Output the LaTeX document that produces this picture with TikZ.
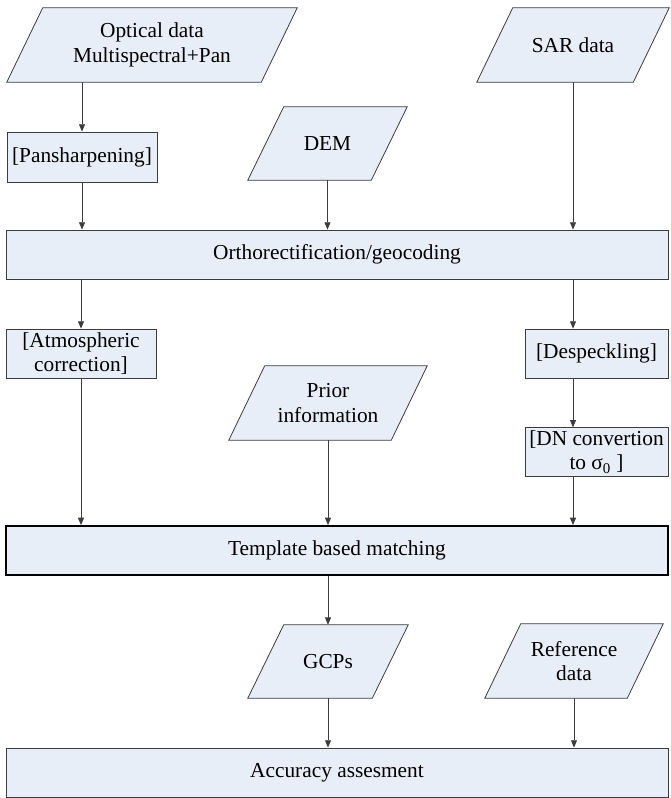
\documentclass[tikz,border=0pt]{standalone}
\usepackage{fontspec}
\setmainfont{Liberation Serif}
\usetikzlibrary{arrows.meta,backgrounds}
\definecolor{boxfill}{RGB}{232,238,247}
\definecolor{edgegray}{RGB}{60,60,60}

\begin{document}
\begin{tikzpicture}[
  x=0.75pt, y=-0.75pt,
  every node/.style={font=\fontsize{16}{18.5}\selectfont},
  procbox/.style={rectangle, draw=edgegray, fill=boxfill, line width=0.6pt,
    align=center, inner sep=2pt},
  widebox/.style={procbox, minimum width=496.5pt, minimum height=36.75pt},
  databox/.style={rectangle, align=center, inner sep=2pt},
  databorder/.style={draw=edgegray, fill=boxfill, line width=0.6pt},
  arrow/.style={-{Triangle[length=5.5pt,width=4.5pt]}, draw=edgegray,
    line width=0.6pt},
]
\useasboundingbox (0,0) rectangle (670,798);

\node[databox, minimum width=190.5pt, minimum height=55.5pt] (opt) at (152,45)
  {Optical data\\Multispectral+Pan};
\node[databox, minimum width=117pt, minimum height=55.5pt] (sar) at (573,45)
  {SAR data};
\node[procbox, minimum width=112.5pt, minimum height=37.5pt] (pan) at (82,157)
  {[Pansharpening]};
\node[databox, minimum width=92.25pt, minimum height=54.75pt] (dem) at (327.5,143.5)
  {DEM};

\node[widebox] (ortho) at (337,254.5) {Orthorectification/geocoding};

\draw[arrow] (pan |- opt.south) -- (pan.north);
\draw[arrow] (pan.south) -- (pan.south |- ortho.north);
\draw[arrow] (dem.south) -- (dem.south |- ortho.north);
\draw[arrow] (sar.south) -- (sar.south |- ortho.north);

\node[procbox, minimum width=112.5pt, minimum height=36.75pt] (atm) at (81,353.5)
  {[Atmospheric\\correction]};
\node[procbox, minimum width=107.25pt, minimum height=36.75pt] (desp) at (596.5,353.5)
  {[Despeckling]};
\node[databox, minimum width=121.5pt, minimum height=55.5pt] (prior) at (328,403)
  {Prior\\information};
\node[procbox, minimum width=107.25pt, minimum height=36pt] (dn) at (596.5,452)
  {[DN convertion\\to σ\textsubscript{0} ]};

\node[widebox, draw=black, line width=1.4pt] (tmpl) at (337,550.5)
  {Template based matching};

\draw[arrow] (atm.north |- ortho.south) -- (atm.north);
\draw[arrow] (sar.south |- ortho.south) -- (sar.south |- desp.north);
\draw[arrow] (sar.south |- desp.south) -- (sar.south |- dn.north);
\draw[arrow] (atm.south) -- (atm.south |- tmpl.north);
\draw[arrow] (prior.south) -- (prior.south |- tmpl.north);
\draw[arrow] (sar.south |- dn.south) -- (sar.south |- tmpl.north);

\node[databox, minimum width=93pt, minimum height=54.75pt] (gcp) at (328,661.5)
  {GCPs};
\node[databox, minimum width=106.5pt, minimum height=55.5pt] (ref) at (574,661)
  {Reference\\data};

\node[widebox] (acc) at (337,772.5) {Accuracy assesment};

\draw[arrow] (gcp.north |- tmpl.south) -- (gcp.north);
\draw[arrow] (gcp.south) -- (gcp.south |- acc.north);
\draw[arrow] (ref.south) -- (ref.south |- acc.north);

% slanted data shapes behind their text
\begin{scope}[on background layer]
  \foreach \n in {opt,sar,dem,prior,gcp,ref}
    \draw[databorder] ([xshift=-13.5pt]\n.south west) -- ([xshift=13.5pt]\n.north west)
      -- ([xshift=13.5pt]\n.north east) -- ([xshift=-13.5pt]\n.south east) -- cycle;
\end{scope}

\end{tikzpicture}
\end{document}
